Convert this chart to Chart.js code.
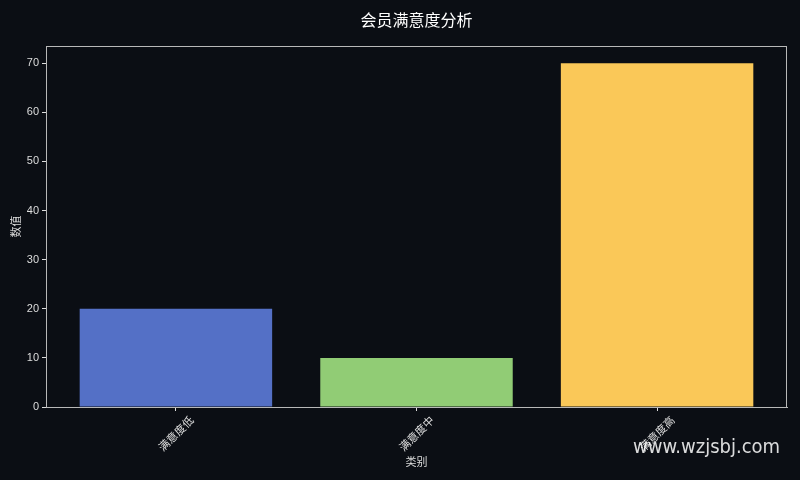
<!DOCTYPE html>
<html lang="zh">
<head>
    <meta charset="UTF-8">
    <title>会员满意度分析</title>
    <script src="https://cdn.jsdelivr.net/npm/chart.js"></script>
    <style>
        html, body { margin: 0; padding: 0; background: #0b0e14; }
        .wrap { position: relative; width: 800px; height: 480px; }
        .watermark {
            position: absolute; left: 633px; top: 434px;
            font-family: 'DejaVu Sans Condensed', 'DejaVu Sans', sans-serif;
            font-stretch: condensed; font-size: 20px;
            color: rgba(255, 255, 255, 0.85);
        }
    </style>
</head>
<body>
    <div class="wrap">
        <canvas id="chart" width="800" height="480"></canvas>
        <div class="watermark">www.wzjsbj.com</div>
    </div>

    <script>
        // Chart data
        const categories = ['满意度低', '满意度中', '满意度高'];
        const values = [20, 10, 70];
        const yTicks = [0, 10, 20, 30, 40, 50, 60, 70];
        const barColors = ['#5470c6', '#91cc75', '#fac858'];
        const chartTitle = '会员满意度分析';

        const FONT = "'Liberation Sans', 'Noto Sans CJK SC', sans-serif";
        const CJK = "'Noto Sans CJK SC', sans-serif";
        const frameColor = '#b8b8b8';
        const textColor = '#dddddd';

        // border box, title centred over the plot, rotated category labels
        const framePlugin = {
            id: 'frame',
            afterDraw(chart) {
                const { ctx, chartArea: a, scales } = chart;
                ctx.save();
                ctx.strokeStyle = frameColor;
                ctx.lineWidth = 1;
                ctx.strokeRect(a.left + 0.5, a.top + 0.5, a.right - a.left - 1, a.bottom - a.top);

                ctx.textAlign = 'center';
                ctx.textBaseline = 'middle';
                ctx.fillStyle = '#ffffff';
                ctx.font = '16px ' + CJK;
                ctx.fillText(chartTitle, (a.left + a.right) / 2, 19.5);

                ctx.font = '11px ' + CJK;
                ctx.fillStyle = textColor;
                categories.forEach((label, i) => {
                    const x = scales.x.getPixelForValue(i);
                    const w = ctx.measureText(label).width;
                    const h = 11;
                    const half = (w + h) / Math.SQRT2 / 2;
                    ctx.save();
                    ctx.translate(x, a.bottom + 7 + half);
                    ctx.rotate(-Math.PI / 4);
                    ctx.fillText(label, 0, 0);
                    ctx.restore();
                });
                ctx.restore();
            }
        };

        const ctx = document.getElementById('chart').getContext('2d');
        new Chart(ctx, {
            type: 'bar',
            data: {
                datasets: [{
                    data: values.map((v, i) => ({ x: i, y: v })),
                    backgroundColor: barColors,
                    borderWidth: 0,
                    categoryPercentage: 1,
                    barPercentage: 0.8
                }]
            },
            options: {
                responsive: false,
                animation: false,
                layout: { padding: { left: 0, right: 13, top: 46, bottom: 0 } },
                plugins: {
                    legend: { display: false },
                    tooltip: { enabled: false },
                    title: { display: false }
                },
                scales: {
                    x: {
                        type: 'linear',
                        offset: false,
                        min: -0.54,
                        max: 2.54,
                        afterBuildTicks: s => { s.ticks = categories.map((c, i) => ({ value: i })); },
                        afterFit: s => { s.height = 73; },
                        ticks: { display: false },
                        grid: { offset: false, drawOnChartArea: false, drawTicks: true, tickLength: 4, color: '#dddddd' },
                        border: { display: true, color: frameColor },
                        title: {
                            display: true,
                            text: '类别',
                            color: textColor,
                            font: { family: CJK, size: 11 },
                            padding: { top: 0, bottom: 12 }
                        }
                    },
                    y: {
                        min: 0,
                        max: 73.5,
                        afterBuildTicks: s => { s.ticks = yTicks.map(v => ({ value: v })); },
                        afterFit: s => { s.width = 46; },
                        ticks: { color: textColor, font: { family: FONT, size: 11 }, padding: 3 },
                        grid: { drawOnChartArea: false, drawTicks: true, tickLength: 4, color: '#dddddd' },
                        border: { display: true, color: frameColor },
                        title: {
                            display: true,
                            text: '数值',
                            color: textColor,
                            font: { family: CJK, size: 11 },
                            padding: { top: 9, bottom: 0 }
                        }
                    }
                }
            },
            plugins: [framePlugin]
        });
    </script>
</body>
</html>
